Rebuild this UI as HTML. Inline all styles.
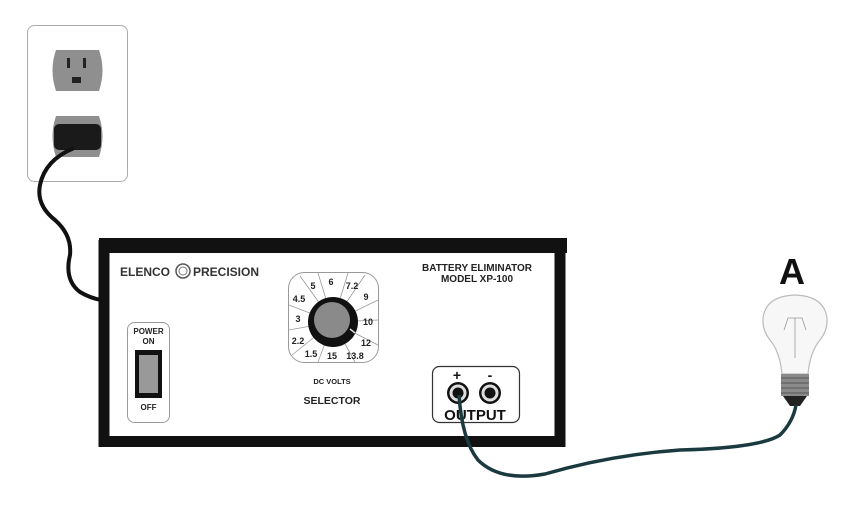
<!DOCTYPE html>
<html><head><meta charset="utf-8"><style>
body{margin:0;background:#fff;}
svg text{font-family:"Liberation Sans",Arial,sans-serif;font-weight:bold;}
</style></head><body>
<svg width="850" height="500" viewBox="0 0 850 500" xmlns="http://www.w3.org/2000/svg">
<!-- outlet -->
<rect x="27.5" y="25.5" width="100" height="156" rx="7" fill="#fff" stroke="#aaa" stroke-width="1"/>
<path d="M56 50 H99 Q106 70 99 91 H56 Q49 70 56 50Z" fill="#8f8f8f"/>
<rect x="67" y="58" width="3" height="10" fill="#222"/>
<rect x="83" y="58" width="3" height="10" fill="#222"/>
<rect x="72" y="77" width="9" height="6" fill="#222"/>
<path d="M56 116 H99 Q106 136 99 157 H56 Q49 136 56 116Z" fill="#8f8f8f"/>
<rect x="54" y="124" width="47" height="26" rx="5" fill="#1a1a1a"/>
<!-- power cord -->
<path d="M74 148 Q45 160 40 185 Q36 205 55 220 Q72 235 70 255 Q64 280 80 292 Q90 298 101 300" fill="none" stroke="#111" stroke-width="4"/>
<!-- box -->
<rect x="104" y="245.5" width="456" height="196" fill="#fff" stroke="#111" stroke-width="11"/>
<rect x="99" y="238" width="468" height="15" fill="#111"/>
<text x="120" y="276" font-size="12" fill="#333">ELENCO</text>
<circle cx="183" cy="271" r="7" fill="none" stroke="#555" stroke-width="1.5"/>
<circle cx="183" cy="271" r="4" fill="none" stroke="#777" stroke-width="1"/>
<text x="193" y="276" font-size="12" fill="#333">PRECISION</text>
<text x="477" y="271" font-size="10" text-anchor="middle" fill="#222">BATTERY ELIMINATOR</text>
<text x="477" y="282" font-size="10" text-anchor="middle" fill="#222">MODEL XP-100</text>
<!-- switch -->
<rect x="127.5" y="322.5" width="42" height="100" rx="7" fill="#fff" stroke="#999"/>
<text x="148.5" y="334" font-size="8" text-anchor="middle" fill="#222">POWER</text>
<text x="148.5" y="344" font-size="8" text-anchor="middle" fill="#222">ON</text>
<rect x="135" y="350" width="27" height="48" fill="#111"/>
<rect x="139" y="355" width="19" height="38" fill="#999"/>
<text x="148.5" y="410" font-size="8" text-anchor="middle" fill="#222">OFF</text>
<!-- dial -->
<rect x="288.5" y="272.5" width="90" height="90" rx="16" fill="#fff" stroke="#999"/>
<g stroke="#999" stroke-width="0.8">
<line x1="333" y1="322" x2="318" y2="273"/><line x1="333" y1="322" x2="348" y2="273"/>
<line x1="333" y1="322" x2="365" y2="275"/><line x1="333" y1="322" x2="378" y2="300"/>
<line x1="333" y1="322" x2="378" y2="320"/><line x1="333" y1="322" x2="378" y2="345"/>
<line x1="333" y1="322" x2="355" y2="362"/><line x1="333" y1="322" x2="318" y2="362"/>
<line x1="333" y1="322" x2="292" y2="355"/><line x1="333" y1="322" x2="289" y2="330"/>
<line x1="333" y1="322" x2="289" y2="305"/><line x1="333" y1="322" x2="300" y2="276"/>
</g>
<circle cx="333" cy="322" r="25" fill="#111"/>
<circle cx="332" cy="320" r="18" fill="#8a8a8a"/>
<line x1="350" y1="329" x2="355" y2="333" stroke="#ddd" stroke-width="1.5"/>
<g font-size="9" fill="#222" text-anchor="middle">
<text x="313" y="289">5</text><text x="331" y="285">6</text><text x="352" y="289">7.2</text>
<text x="366" y="300">9</text><text x="368" y="325">10</text><text x="366" y="346">12</text>
<text x="355" y="359">13.8</text><text x="332" y="359">15</text><text x="311" y="357">1.5</text>
<text x="298" y="344">2.2</text><text x="298" y="322">3</text><text x="299" y="302">4.5</text>
</g>
<text x="332" y="384" font-size="7.5" text-anchor="middle" fill="#222">DC VOLTS</text>
<text x="332" y="404" font-size="10.5" text-anchor="middle" fill="#222">SELECTOR</text>
<!-- output -->
<rect x="432.5" y="366.5" width="87" height="56" rx="7" fill="#fff" stroke="#333" stroke-width="1.2"/>
<text x="457" y="380" font-size="14" text-anchor="middle" fill="#111">+</text>
<text x="490" y="380" font-size="14" text-anchor="middle" fill="#111">-</text>
<circle cx="458" cy="393" r="11" fill="#111"/><circle cx="458" cy="393" r="8.5" fill="#ddd"/><circle cx="458" cy="393" r="5.5" fill="#111"/>
<circle cx="490" cy="393" r="11" fill="#111"/><circle cx="490" cy="393" r="8.5" fill="#ddd"/><circle cx="490" cy="393" r="5.5" fill="#111"/>
<text x="475" y="420" font-size="15" text-anchor="middle" fill="#111">OUTPUT</text>
<!-- bulb -->
<text x="792" y="284" font-size="36" text-anchor="middle" fill="#111">A</text>
<path d="M782 374 Q780 352 770 340 Q762 330 763 318 Q766 296 795 295 Q824 296 827 318 Q828 330 820 340 Q810 352 808 374 Z" fill="#f7f7f7" stroke="#bbb" stroke-width="1.2"/>
<path d="M784 330 L788 318 L802 318 L806 330 M795 318 V358" fill="none" stroke="#999" stroke-width="0.8"/>
<rect x="781" y="374" width="28" height="22" fill="#8a8a8a"/>
<g stroke="#555" stroke-width="1"><line x1="781" y1="378" x2="809" y2="378"/><line x1="781" y1="383" x2="809" y2="383"/><line x1="781" y1="388" x2="809" y2="388"/><line x1="781" y1="393" x2="809" y2="393"/></g>
<path d="M783 396 H807 L800 406 H790 Z" fill="#222"/>
<!-- output cord -->
<path d="M459 395 Q462 440 478 460 Q500 482 545 474 Q610 455 680 450 Q760 448 780 435 Q793 422 796 405" fill="none" stroke="#1b3a40" stroke-width="3.5"/>
</svg>
</body></html>
